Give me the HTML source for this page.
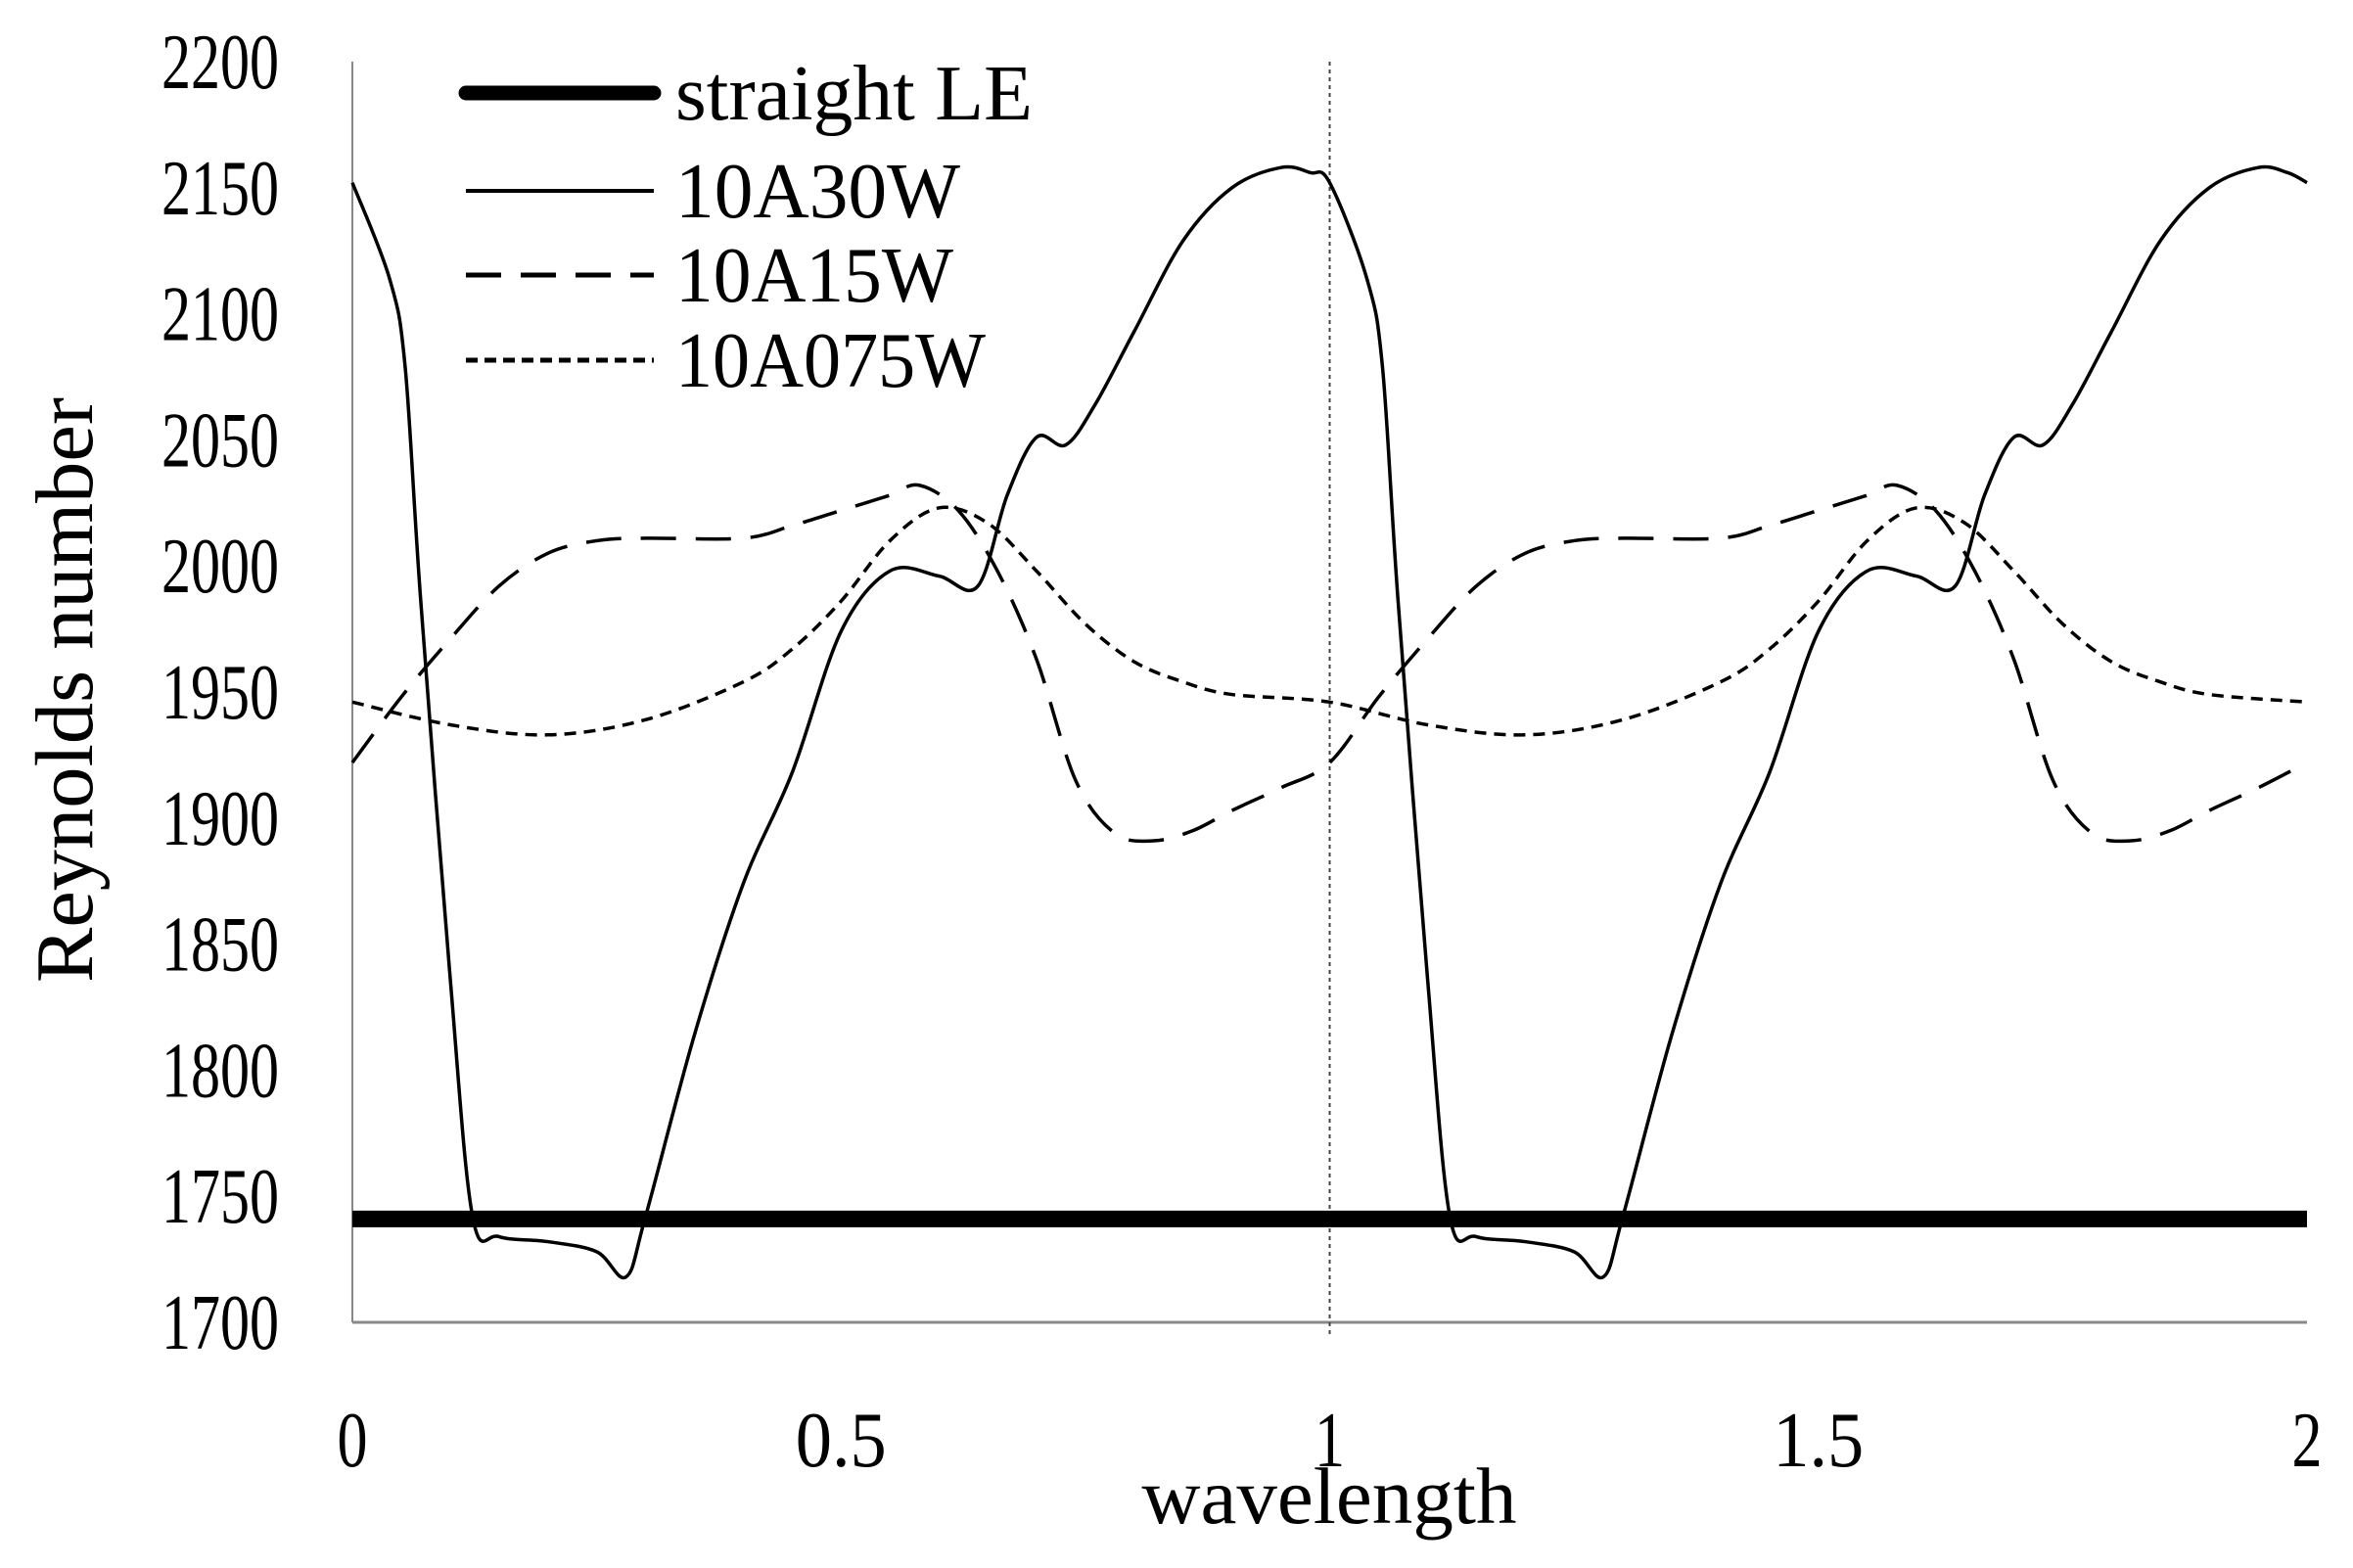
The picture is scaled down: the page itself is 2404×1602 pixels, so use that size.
<!DOCTYPE html>
<html><head><meta charset="utf-8"><style>
html,body{margin:0;padding:0;background:#fff;}
svg{display:block;font-family:"Liberation Serif",serif;}
</style></head><body>
<svg id="chart" width="2404" height="1602" viewBox="0 0 2404 1602" xmlns="http://www.w3.org/2000/svg">
<g id="grid"></g>
<g id="series"></g>
<g id="labels"></g>
</svg>
<script>
const xTicks=[0,0.5,1,1.5,2];
const xTickLabels=["0","0.5","1","1.5","2"];
const yTicks=[1700,1750,1800,1850,1900,1950,2000,2050,2100,2150,2200];
const straightX=[0,2];
const straightY=[1741,1741];
const a30X=[0,0.038,0.054,0.07,0.1,0.123,0.15,0.2,0.25,0.28,0.3,0.35,0.4,0.45,0.5,0.55,0.6,0.64,0.67,0.7,0.73,0.76,0.8,0.85,0.9,0.95,0.98,
 1,1.038,1.054,1.07,1.1,1.123,1.15,1.2,1.25,1.28,1.3,1.35,1.4,1.45,1.5,1.55,1.6,1.64,1.67,1.7,1.73,1.76,1.8,1.85,1.9,1.95,1.98,2];
const a30Y=[2152,2114,2079,1986,1837,1742,1734,1732,1728,1718,1742,1814,1874,1918,1974,1998,1996,1992,2028,2051,2048,2064,2093,2129,2150,2158,2156,
 2152,2114,2079,1986,1837,1742,1734,1732,1728,1718,1742,1814,1874,1918,1974,1998,1996,1992,2028,2051,2048,2064,2093,2129,2150,2158,2156,2152];
const a15X=[0,0.05,0.1,0.15,0.2,0.25,0.3,0.4,0.45,0.5,0.55,0.58,0.62,0.66,0.7,0.74,0.78,0.82,0.86,0.9,0.95,
 1,1.05,1.1,1.15,1.2,1.25,1.3,1.4,1.45,1.5,1.55,1.58,1.62,1.66,1.7,1.74,1.78,1.82,1.86,1.9,1.95,2];
const a15Y=[1922,1948,1971,1992,2005,2010,2011,2011,2016,2022,2028,2032,2022,1998,1963,1915,1894,1891,1895,1903,1912,
 1922,1948,1971,1992,2005,2010,2011,2011,2016,2022,2028,2032,2022,1998,1963,1915,1894,1891,1895,1903,1912,1922];
const a075X=[0,0.1,0.2,0.3,0.4,0.45,0.5,0.55,0.6,0.65,0.7,0.75,0.8,0.85,0.9,
 1,1.1,1.2,1.3,1.4,1.45,1.5,1.55,1.6,1.65,1.7,1.75,1.8,1.85,1.9,2];
const a075Y=[1946,1937,1933,1939,1954,1967,1986,2010,2023,2017,1998,1977,1962,1954,1949,
 1946,1937,1933,1939,1954,1967,1986,2010,2023,2017,1998,1977,1962,1954,1949,1946];

const NS="http://www.w3.org/2000/svg";
const X0=360,X1=2357,Y0=1351,Y1=63;
function sx(v){return X0+(v-0)/(2-0)*(X1-X0);}
function sy(v){return Y0-(v-1700)/(2200-1700)*(Y0-Y1);}
function mk(tag,attrs,parent){const e=document.createElementNS(NS,tag);for(const k in attrs)e.setAttribute(k,attrs[k]);parent.appendChild(e);return e;}
const grid=document.getElementById('grid'),ser=document.getElementById('series'),lab=document.getElementById('labels');

let ax=mk('line',{x1:X0,y1:Y1,x2:X0,y2:Y0,stroke:'#888','stroke-width':2},grid);


let bx=mk('line',{x1:X0,y1:Y0,x2:X1,y2:Y0,stroke:'#888','stroke-width':3},grid);


let vl=mk('line',{x1:sx(1),y1:Y1,x2:sx(1),y2:Y0+12,stroke:'#444','stroke-width':2,'stroke-dasharray':'4,4'},grid);



yTicks.forEach(v=>{const s=String(v);const t=mk('text',{x:285,y:sy(v)+27,'text-anchor':'end','font-size':80,textLength:s.length*30,lengthAdjust:'spacingAndGlyphs'},lab);t.textContent=s;

});
xTicks.forEach((v,i)=>{const s=xTickLabels[i];const t=mk('text',{x:sx(v),y:1498,'text-anchor':'middle','font-size':80,textLength:s.length*31,lengthAdjust:'spacingAndGlyphs'},lab);t.textContent=s;

});
let xt=mk('text',{x:1358,y:1556,'text-anchor':'middle','font-size':82,textLength:383,lengthAdjust:'spacingAndGlyphs'},lab);xt.textContent='wavelength';


let yt=mk('text',{x:0,y:0,'text-anchor':'middle','font-size':84,textLength:598,lengthAdjust:'spacingAndGlyphs',transform:'translate(94,705) rotate(-90)'},lab);yt.textContent='Reynolds number';



function smoothPath(xs,ys){const p=xs.map((x,i)=>[sx(x),sy(ys[i])]);let d='M'+p[0][0]+','+p[0][1];
for(let i=0;i<p.length-1;i++){const p0=p[Math.max(0,i-1)],p1=p[i],p2=p[i+1],p3=p[Math.min(p.length-1,i+2)];
const c1=[p1[0]+(p2[0]-p0[0])/6,p1[1]+(p2[1]-p0[1])/6],c2=[p2[0]-(p3[0]-p1[0])/6,p2[1]-(p3[1]-p1[1])/6];
d+=' C'+c1[0]+','+c1[1]+' '+c2[0]+','+c2[1]+' '+p2[0]+','+p2[1];}return d;}

let s1=mk('path',{d:smoothPath(a15X,a15Y),fill:'none',stroke:'#000','stroke-width':3.5,'stroke-dasharray':'36,20'},ser);


let s2=mk('path',{d:smoothPath(a075X,a075Y),fill:'none',stroke:'#000','stroke-width':3.5,'stroke-dasharray':'12,8'},ser);


let s3=mk('path',{d:smoothPath(a30X,a30Y),fill:'none',stroke:'#000','stroke-width':3.5},ser);


let s4=mk('line',{x1:sx(straightX[0]),y1:sy(straightY[0]),x2:sx(straightX[1]),y2:sy(straightY[1]),stroke:'#000','stroke-width':17},ser);



const leg=[['straight LE',95,{'stroke-width':15,'stroke-linecap':'round'},365],['10A30W',195,{'stroke-width':4},291],['10A15W',281,{'stroke-width':5,'stroke-dasharray':'36,20'},284],['10A075W',368,{'stroke-width':5,'stroke-dasharray':'12,7'},317]];
leg.forEach(l=>{const g=mk('g',{},lab);


const a=Object.assign({x1:476,y1:l[1],x2:668,y2:l[1],stroke:'#000'},l[2]);mk('line',a,g);
const t=mk('text',{x:690,y:l[1]+27,'font-size':80,textLength:l[3],lengthAdjust:'spacingAndGlyphs'},g);t.textContent=l[0];});
</script>
</body></html>
